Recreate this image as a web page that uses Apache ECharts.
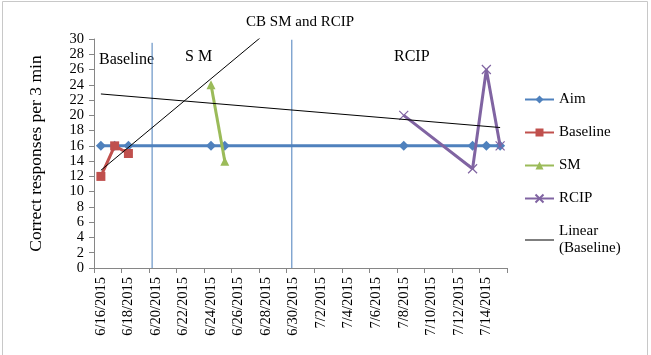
<!DOCTYPE html>
<html>
<head>
<meta charset="utf-8">
<script src="https://cdn.jsdelivr.net/npm/echarts@6/dist/echarts.min.js"></script>
<style>
html,body{margin:0;padding:0;background:#fff;}
#chart{width:651px;height:355px;}
</style>
</head>
<body>
<div id="chart"></div>
<script>
// ---- data ----
var categories = ['6/16/2015','6/17/2015','6/18/2015','6/19/2015','6/20/2015','6/21/2015','6/22/2015','6/23/2015','6/24/2015','6/25/2015',
  '6/26/2015','6/27/2015','6/28/2015','6/29/2015','6/30/2015','7/1/2015','7/2/2015','7/3/2015','7/4/2015','7/5/2015',
  '7/6/2015','7/7/2015','7/8/2015','7/9/2015','7/10/2015','7/11/2015','7/12/2015','7/13/2015','7/14/2015','7/15/2015'];
var yTicks = [0,2,4,6,8,10,12,14,16,18,20,22,24,26,28,30];

var aimDates = ['6/16/2015','6/17/2015','6/18/2015','6/24/2015','6/25/2015','7/8/2015','7/13/2015','7/14/2015','7/15/2015'];
var aimValues = [16,16,16,16,16,16,16,16,16];
var baselineDates = ['6/16/2015','6/17/2015','6/18/2015'];
var baselineValues = [12,16,15];
var smDates = ['6/24/2015','6/25/2015'];
var smValues = [24,14];
var rcipDates = ['7/8/2015','7/13/2015','7/14/2015','7/15/2015'];
var rcipValues = [20,13,26,16];
var trendDates = ['6/16/2015','6/28/2015'];
var trendValues = [12.8,30.8];
var drawnLineDates = ['6/16/2015','7/15/2015'];
var drawnLineValues = [22.8,18.4];
// phase separators, in day units from the axis start
var separatorX = [4.22,14.37];
var separatorTop = [29.5,29.9];

function pairs(d,v){ return d.map(function(x,i){ return [x,v[i]]; }); }

var serif = 'Liberation Serif, Times New Roman, serif';
var chart = echarts.init(document.getElementById('chart'));
var xCross = 'path://M0,0L10,10M10,0L0,10';
var thinLineIcon = 'path://M0,0L0.01,0M0,9L58,9L58,11L0,11ZM0,20L0.01,20';

var series = [
  {name:'Aim',type:'line',data:pairs(aimDates,aimValues),symbol:'diamond',symbolSize:10,showAllSymbol:true,
   lineStyle:{color:'#4F81BD',width:3},itemStyle:{color:'#4F81BD',borderWidth:0},z:3},
  {name:'Baseline',type:'line',data:pairs(baselineDates,baselineValues),symbol:'rect',symbolSize:9,showAllSymbol:true,
   lineStyle:{color:'#C0504D',width:3},itemStyle:{color:'#C0504D',borderWidth:0},z:4},
  {name:'SM',type:'line',data:pairs(smDates,smValues),symbol:'triangle',symbolSize:9,showAllSymbol:true,
   lineStyle:{color:'#9BBB59',width:3},itemStyle:{color:'#9BBB59',borderWidth:0},z:4},
  {name:'RCIP',type:'line',data:pairs(rcipDates,rcipValues),symbol:xCross,symbolSize:9,showAllSymbol:true,
   lineStyle:{color:'#8064A2',width:3},itemStyle:{color:'#8064A2',borderColor:'#8064A2',borderWidth:1.2},z:4},
  {name:'Linear (Baseline)',type:'line',data:pairs(trendDates,trendValues),symbol:'none',clip:true,
   lineStyle:{color:'#000',width:1},itemStyle:{color:'#000',borderWidth:0},z:5},
  {name:'drawn',type:'line',data:pairs(drawnLineDates,drawnLineValues),symbol:'none',
   lineStyle:{color:'#000',width:1},z:5,silent:true}
];
separatorX.forEach(function(x,i){
  series.push({name:'sep'+i,type:'line',xAxisIndex:1,data:[[x,0],[x,separatorTop[i]]],symbol:'none',
    lineStyle:{color:'#4A7EBB',width:1},z:2,silent:true});
});

chart.setOption({
  animation:false,
  backgroundColor:'#fff',
  title:{text:'CB SM and RCIP',left:295,textAlign:'center',top:10,
    textStyle:{fontFamily:serif,fontSize:15,fontWeight:'normal',color:'#000'}},
  grid:{left:94,right:144,top:39,bottom:87,containLabel:false},
  legend:{orient:'vertical',left:519,top:86,itemWidth:29,itemHeight:10,itemGap:16,
    data:['Aim','Baseline','SM','RCIP',{name:'Linear (Baseline)',icon:thinLineIcon}],
    formatter:function(n){ return n==='Linear (Baseline)'?'Linear\n(Baseline)':n; },
    textStyle:{fontFamily:serif,fontSize:15,color:'#000',lineHeight:17}},
  xAxis:[{type:'category',data:categories,boundaryGap:true,
    axisLine:{lineStyle:{color:'#868686'}},
    axisTick:{show:true,interval:1,length:5,lineStyle:{color:'#868686'}},
    axisLabel:{interval:1,rotate:90,margin:9,fontFamily:serif,fontSize:14.5,color:'#000'},
    splitLine:{show:false}},
   {type:'value',min:0,max:30,show:false,splitLine:{show:false}}],
  yAxis:{type:'value',min:yTicks[0],max:yTicks[yTicks.length-1],interval:2,
    name:'Correct responses per 3 min',nameLocation:'middle',nameGap:49,
    nameTextStyle:{fontFamily:serif,fontSize:17.5,color:'#000'},
    axisLine:{show:true,lineStyle:{color:'#868686'}},
    axisTick:{show:true,length:5,lineStyle:{color:'#868686'}},
    axisLabel:{margin:10,fontFamily:serif,fontSize:14.5,color:'#000'},
    splitLine:{show:false}},
  graphic:[
    {type:'rect',shape:{x:2.5,y:1.5,width:645,height:360},style:{fill:'none',stroke:'#c8c8c8',lineWidth:1},silent:true},
    {type:'text',left:99,top:52,style:{text:'Baseline',font:'16px '+serif,fill:'#000'}},
    {type:'text',left:185,top:49,style:{text:'S M',font:'16px '+serif,fill:'#000'}},
    {type:'text',left:394,top:49,style:{text:'RCIP',font:'16px '+serif,fill:'#000'}}
  ],
  series:series
});
</script>
</body>
</html>
